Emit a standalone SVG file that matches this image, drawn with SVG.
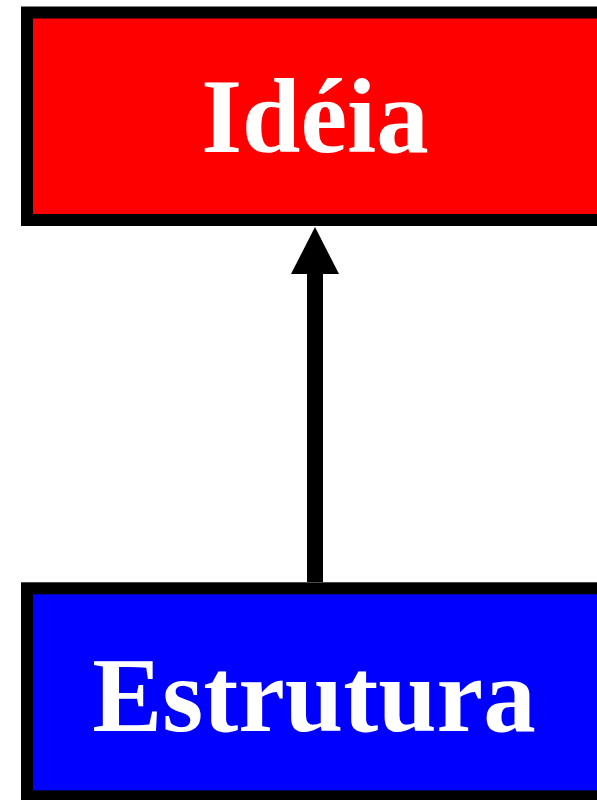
<svg xmlns="http://www.w3.org/2000/svg" width="597" height="800" viewBox="0 0 597 800">
<style>
.box{stroke:#000;stroke-width:12}
.lbl{font-family:"Liberation Serif","Times New Roman",serif;font-weight:bold;font-size:105px;fill:#fff;text-anchor:middle}
</style>
<defs>
<marker id="ah" markerUnits="userSpaceOnUse" markerWidth="48" markerHeight="48" refX="1" refY="24" orient="auto" overflow="visible">
<path d="M0,0 L47,24 L0,48 Z" fill="#000"/>
</marker>
</defs>
<rect width="597" height="800" fill="#fff"/>
<g id="connectors">
<line x1="315" y1="582" x2="315" y2="273" stroke="#000" stroke-width="16" marker-end="url(#ah)"/>
</g>
<g id="ideia">
<rect class="box" x="27" y="12.5" width="620" height="207.5" fill="#f00"/>
<text class="lbl" x="315" y="152">Idéia</text>
</g>
<g id="estrutura">
<rect class="box" x="27" y="588.3" width="620" height="208" fill="#00f"/>
<text class="lbl" x="314" y="731">Estrutura</text>
</g>
</svg>
